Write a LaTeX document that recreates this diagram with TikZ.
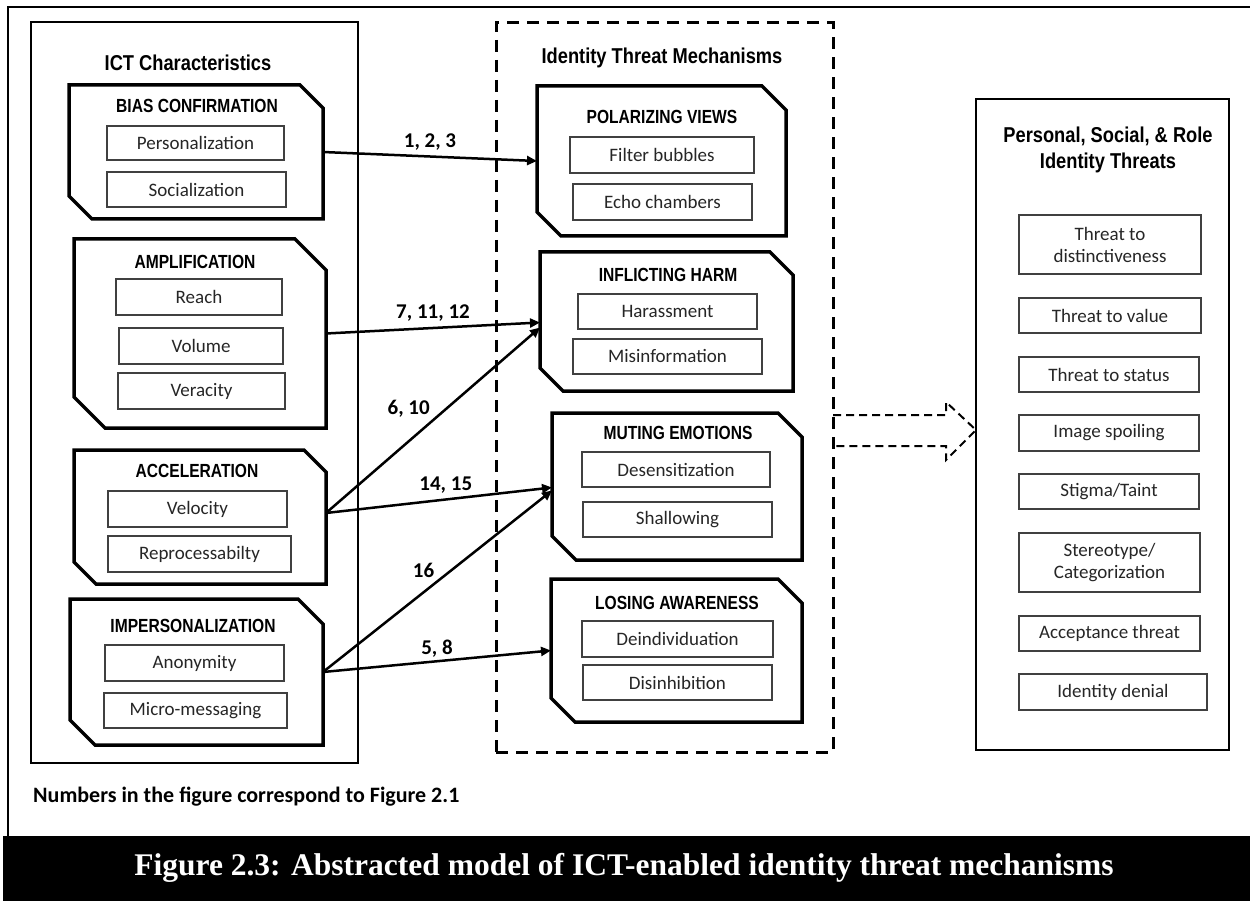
\documentclass[tikz,border=0pt]{standalone}
\usepackage{fontspec}
\setmainfont{Carlito}
\newfontfamily\headfont[FakeStretch=0.82]{Liberation Sans}
\newfontfamily\titlefont[FakeStretch=0.85]{Liberation Sans}
\newfontfamily\capfont{Liberation Serif}
\usetikzlibrary{arrows.meta}
\tikzset{
  frame/.style={draw=none, inner sep=0pt, outer sep=0pt},
  octo/.style={line width=3.5pt, line join=miter},
  outerbox/.style={draw, line width=2.5pt, inner sep=0pt, outer sep=0pt},
  dashbox/.style={draw, line width=3pt, dash pattern=on 12pt off 8pt, inner sep=0pt, outer sep=0pt},
  sub/.style={draw=black!75, line width=1.2pt, inner sep=0pt, outer sep=0pt, text=black!85,
    font=\fontsize{19}{22}\selectfont, align=center},
  head/.style={inner sep=0pt, font=\headfont\bfseries\fontsize{19}{22}\selectfont},
  title/.style={inner sep=0pt, font=\titlefont\bfseries\fontsize{21.5}{26}\selectfont, align=center},
  conn/.style={line width=2.5pt, -{Triangle[length=10pt,width=9pt]}},
  lbl/.style={inner sep=0pt, font=\bfseries\fontsize{21}{24}\selectfont},
}
\newcommand\octobox[6]{%
  \node[frame, minimum width={(#4-#2)*1pt}, minimum height={(#5-#3)*1pt}] (#1) at ({(#2+#4)/2},{(#3+#5)/2}) {};
  \draw[octo] (#1.north west) -- ([xshift=-#6pt]#1.north east) -- ([yshift=-#6pt]#1.north east)
    -- (#1.south east) -- ([xshift=#6pt]#1.south west) -- ([yshift=#6pt]#1.south west) -- cycle;
}
\newcommand\subbox[6]{% name, x1,y1,x2,y2, text
  \node[sub, minimum width={(#4-#2)*1pt}, minimum height={(#5-#3)*1pt}] (#1) at ({(#2+#4)/2},{(#3+#5)/2}) {#6};
}
\begin{document}
\begin{tikzpicture}[x=1pt,y=-1pt]
\useasboundingbox (0,0) rectangle (1250,901);
\fill[white] (0,0) rectangle (1250,901);
% page frame
\draw[line width=1.5pt] (8,836) -- (8,7) -- (1250,7);
\fill[black] (3,836) rectangle (1250,901);
\node[inner sep=0pt, text=white, font=\capfont\bfseries\fontsize{31.5}{36}\selectfont] (caption) at (624,868)
  {Figure 2.3: Abstracted model of ICT-enabled identity threat mechanisms};
\node[anchor=west, inner sep=0pt, font=\bfseries\fontsize{22}{25}\selectfont] (note) at (33,797)
  {Numbers in the figure correspond to Figure 2.1};

% ICT characteristics
\node[outerbox, minimum width=327pt, minimum height=741pt] (ict) at (194.5,392.5) {};
\node[title] (ictT) at (188,63) {ICT Characteristics};

\octobox{bias}{69}{85}{323}{219}{23}
\node[head] (biasH) at (197,106) {BIAS CONFIRMATION};
\subbox{pers}{107}{126}{284}{160}{Personalization}
\subbox{soc}{107}{172}{286}{207}{Socialization}

\octobox{amp}{74}{239}{326}{428}{31}
\node[head] (ampH) at (195,262) {AMPLIFICATION};
\subbox{reach}{116}{279}{282}{315}{Reach}
\subbox{vol}{119}{328}{283}{364}{Volume}
\subbox{ver}{118}{373}{285}{409}{Veracity}

\octobox{acc}{74}{450}{326}{584}{22}
\node[head] (accH) at (197,471) {ACCELERATION};
\subbox{vel}{108}{491}{287}{527}{Velocity}
\subbox{rep}{108}{536}{291}{572}{Reprocessabilty}

\octobox{imp}{70}{599}{323}{745}{25}
\node[head] (impH) at (193,626) {IMPERSONALIZATION};
\subbox{anon}{105}{645}{284}{681}{Anonymity}
\subbox{micro}{104}{693}{287}{728}{Micro-messaging}

% mechanisms
\node[dashbox, minimum width=337pt, minimum height=729pt] (mech) at (664.5,387.5) {};
\node[title] (mechT) at (662,58) {Identity Threat Mechanisms};

\octobox{pol}{537}{86}{786}{236}{24}
\node[head] (polH) at (662,117) {POLARIZING VIEWS};
\subbox{filt}{570}{137}{754}{173}{Filter bubbles}
\subbox{echo}{573}{184}{752}{220}{Echo chambers}

\octobox{harm}{540}{252}{793}{391}{23}
\node[head] (harmH) at (668,275) {INFLICTING HARM};
\subbox{hara}{578}{294}{757}{329}{Harassment}
\subbox{misi}{573}{339}{762}{374}{Misinformation}

\octobox{mut}{552}{413}{802}{560}{24}
\node[head] (mutH) at (678,433) {MUTING EMOTIONS};
\subbox{desen}{582}{452}{770}{487}{Desensitization}
\subbox{shal}{583}{502}{772}{537}{Shallowing}

\octobox{los}{551}{579}{802}{722}{24}
\node[head] (losH) at (677,603) {LOSING AWARENESS};
\subbox{deind}{582}{621}{773}{657}{Deindividuation}
\subbox{disin}{583}{665}{772}{700}{Disinhibition}

% threats
\node[outerbox, minimum width=253pt, minimum height=651pt] (thr) at (1102.5,424.5) {};
\node[title] (thrT) at (1108,150) {Personal, Social, \& Role\\Identity Threats};
\subbox{t1}{1019}{215}{1201}{274}{Threat to\\distinctiveness}
\subbox{t2}{1019}{298}{1201}{333}{Threat to value}
\subbox{t3}{1019}{357}{1199}{392}{Threat to status}
\subbox{t4}{1019}{415}{1199}{451}{Image spoiling}
\subbox{t5}{1019}{474}{1199}{509}{Stigma/Taint}
\subbox{t6}{1019}{533}{1200}{592}{Stereotype/\\Categorization}
\subbox{t7}{1019}{616}{1200}{651}{Acceptance threat}
\subbox{t8}{1019}{674}{1207}{710}{Identity denial}

% block arrow (dashed)
\draw[line width=2pt, dash pattern=on 8pt off 5pt, line join=miter]
  (mech.east |- 0,415) -- (946,415) -- (946,402) -- (thr.west |- 0,430) -- (946,460) -- (946,446) -- (mech.east |- 0,446);

% connectors
\draw[conn] (bias.east) -- node[lbl, above=5pt] {1, 2, 3} (pol.west);
\draw[conn] (amp.east) -- node[lbl, above=5pt] {7, 11, 12} ([yshift=-1pt]harm.west);
\draw[conn] ([yshift=4pt]acc.east) -- node[lbl, above left=2pt] {6, 10} ([yshift=-6pt]harm.west);
\draw[conn] ([yshift=4pt]acc.east) -- node[lbl, pos=0.53, above=5pt] {14, 15} ([yshift=-1pt]mut.west);
\draw[conn] (imp.east) -- node[lbl, above left=2pt] {16} ([yshift=-4pt]mut.west);
\draw[conn] (imp.east) -- node[lbl, above=3pt] {5, 8} (los.west);
\end{tikzpicture}
\end{document}
